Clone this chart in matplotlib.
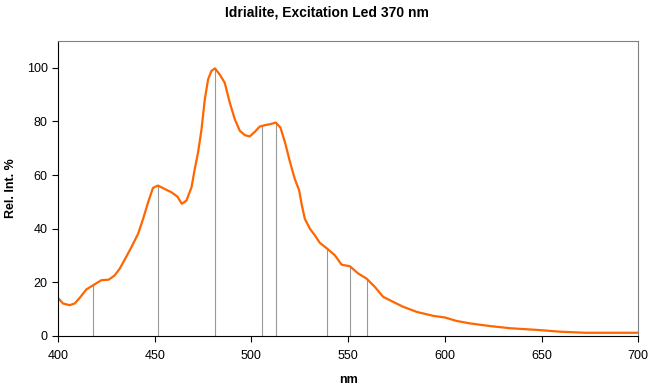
import numpy as np
import matplotlib.pyplot as plt

plt.rcParams['font.family'] = ['Liberation Sans', 'DejaVu Sans']

# spectrum
nm = [400, 402.6, 406, 408.6, 411.2, 414.7, 418.1, 422.4, 426.2, 429.3, 431.9,
      434.5, 438.0, 441.4, 444.0, 446.6, 449.1, 451.7, 455.2, 458.6, 461.7,
      464.0, 466.4, 469.0, 470.7, 472.4, 474.2, 475.9, 477.6, 479.3, 481.1,
      483.6, 486.2, 488.8, 491.4, 494.0, 496.6, 499.1, 501.7, 504.3, 506.9,
      509.9, 512.6, 515.0, 517.5, 519.8, 522.4, 524.7, 525.9, 527.6, 530.2,
      532.8, 535.4, 539.1, 543.1, 546.6, 550.9, 555.2, 559.5, 563.8, 568.1,
      573.3, 578.4, 585.4, 594.0, 600.0, 606.1, 612.9, 623.3, 633.6, 649.1,
      659.5, 672.4, 700]
rel = [14.2, 12.1, 11.5, 12.1, 14.2, 17.4, 18.9, 20.8, 21.0, 22.6, 25.1,
       28.5, 33.2, 38.1, 43.7, 49.9, 55.2, 56.1, 54.8, 53.6, 52.0,
       49.3, 50.5, 55.4, 62.3, 68.4, 77.1, 88.3, 95.7, 98.8, 99.8,
       97.5, 94.4, 87.0, 80.8, 76.5, 74.9, 74.4, 76.1, 78.1, 78.6,
       79.0, 79.6, 77.7, 71.8, 65.2, 58.6, 54.2, 49.3, 43.7, 40.0,
       37.5, 34.7, 32.6, 30.1, 26.6, 26.0, 23.3, 21.4, 18.3, 14.6,
       12.7, 10.9, 9.0, 7.5, 6.9, 5.6, 4.7, 3.7, 2.9, 2.2,
       1.6, 1.2, 1.2]

# peak positions marked with drop lines
peaks = [418.1, 451.7, 481.1, 505.5, 512.6, 539.2, 550.9, 559.8]

fig = plt.figure(figsize=(6.54, 3.90), dpi=100)
ax = fig.add_axes([0.0887, 0.1385, 0.976 - 0.0887, 0.8949 - 0.1385])

heights = np.interp(peaks, nm, rel)
ax.vlines(peaks, 0, heights, color='#999999', linewidth=0.8, zorder=1)
ax.plot(nm, rel, color='#FF6600', linewidth=1.6, zorder=2)

ax.set_xlim(400, 700)
ax.set_ylim(0, 110)
ax.set_xticks(np.arange(400, 701, 50))
ax.set_yticks(np.arange(0, 101, 20))
ax.tick_params(direction='out', length=4, width=0.8, labelsize=9, colors='black')
ax.tick_params(axis='x', pad=6)

ax.spines['top'].set_color('#808080')
ax.spines['right'].set_color('#808080')
for s in ax.spines.values():
    s.set_linewidth(0.8)

ax.set_xlabel('nm', fontsize=9, fontweight='bold', labelpad=9)
ax.set_ylabel('Rel. Int. %', fontsize=9, fontweight='bold')
ax.yaxis.set_label_coords(-0.071, 0.5)
fig.suptitle('Idrialite, Excitation Led 370 nm', fontsize=10, fontweight='bold', y=0.985)

fig.savefig('out.png', dpi=100)
